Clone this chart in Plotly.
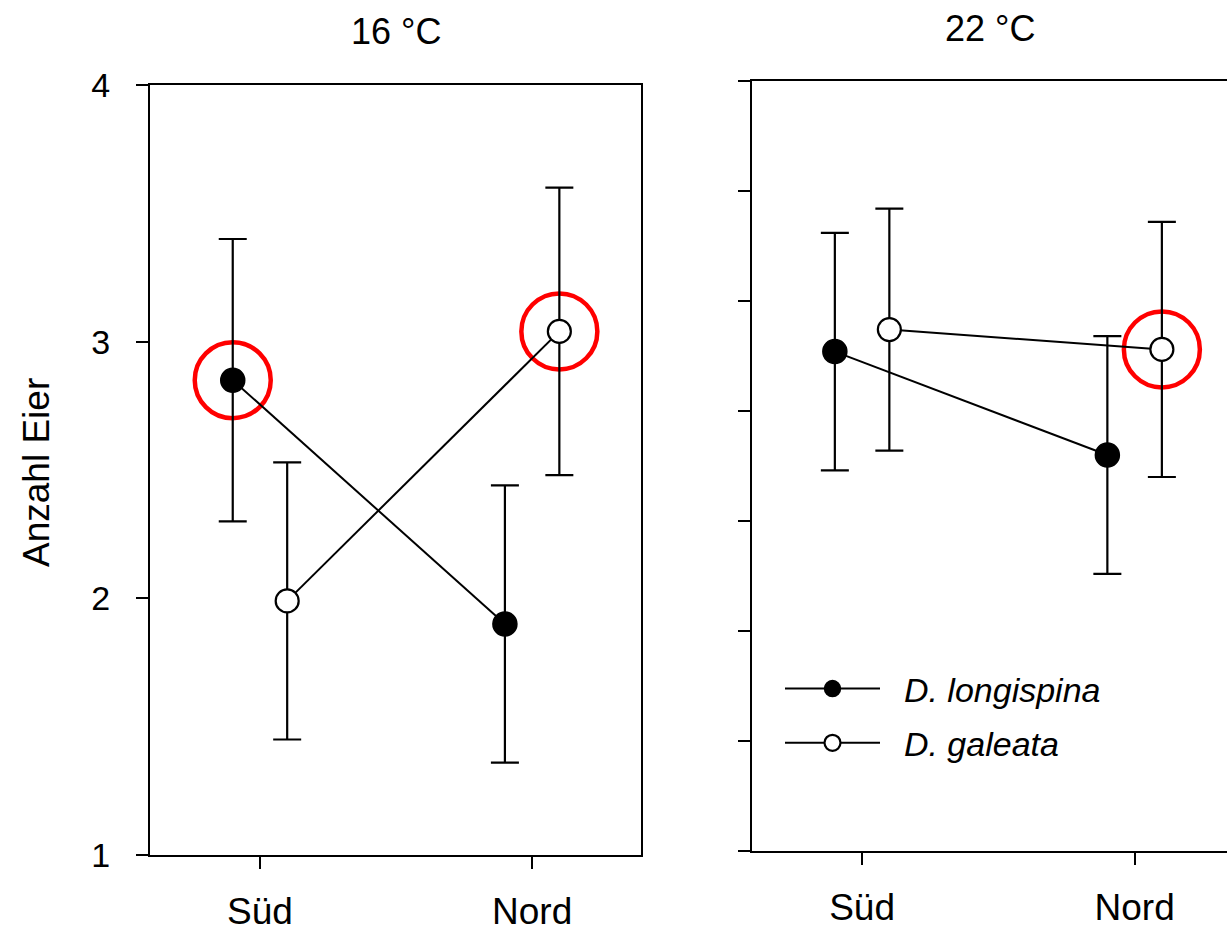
import plotly.graph_objects as go

categories = ["Süd", "Nord"]
panels = ["16 °C", "22 °C"]

# 16 °C
long_16 = [2.85, 1.90]
long_16_err = [0.55, 0.54]
gal_16 = [1.99, 3.04]
gal_16_err = [0.54, 0.56]

# 22 °C
long_22 = [3.27, 2.80]
long_22_err = [0.54, 0.54]
gal_22 = [3.37, 3.28]
gal_22_err = [0.55, 0.58]

# highlighted (red circle) points
hl_long_16 = [True, False]
hl_gal_16 = [False, True]
hl_long_22 = [False, False]
hl_gal_22 = [False, True]

y_ticks_left = [1, 2, 3, 4]
y_ticks_right = [1.0, 1.5, 2.0, 2.5, 3.0, 3.5, 4.0, 4.5]

OFFSET = 0.1
FONT = "Liberation Sans, Arial, sans-serif"
W, H = 1227, 931

pos = list(range(len(categories)))
fig = go.Figure()

def add_panel(xa, ya, lon, lon_e, gal, gal_e, hl_l, hl_g, showlegend):
    xl = [p - OFFSET for p in pos]
    xg = [p + OFFSET for p in pos]
    # red highlight circles
    hx = [x for x, h in zip(xl, hl_l) if h] + [x for x, h in zip(xg, hl_g) if h]
    hy = [v for v, h in zip(lon, hl_l) if h] + [v for v, h in zip(gal, hl_g) if h]
    fig.add_trace(go.Scatter(x=hx, y=hy, xaxis=xa, yaxis=ya, mode="markers",
                             marker=dict(symbol="circle-open", size=76, color="#ff0000",
                                         line=dict(width=4.5, color="#ff0000")),
                             showlegend=False, hoverinfo="skip"))
    fig.add_trace(go.Scatter(x=xl, y=lon, xaxis=xa, yaxis=ya, mode="lines+markers",
                             name="&nbsp;&nbsp;<i>D. longispina</i>", legendgroup="l",
                             showlegend=showlegend,
                             line=dict(color="black", width=2),
                             marker=dict(size=24, color="black", line=dict(width=1.5, color="black")),
                             error_y=dict(type="data", array=lon_e, visible=True,
                                          color="black", thickness=2.2, width=14)))
    fig.add_trace(go.Scatter(x=xg, y=gal, xaxis=xa, yaxis=ya, mode="lines+markers",
                             name="&nbsp;&nbsp;<i>D. galeata</i>", legendgroup="g",
                             showlegend=showlegend,
                             line=dict(color="black", width=2),
                             marker=dict(size=23, color="white", line=dict(width=2.2, color="black")),
                             error_y=dict(type="data", array=gal_e, visible=True,
                                          color="black", thickness=2.2, width=14)))

add_panel("x", "y", long_16, long_16_err, gal_16, gal_16_err, hl_long_16, hl_gal_16, False)
add_panel("x2", "y2", long_22, long_22_err, gal_22, gal_22_err, hl_long_22, hl_gal_22, True)

axis_common = dict(showgrid=False, zeroline=False, showline=True, linecolor="black",
                   linewidth=2, ticks="outside", tickcolor="black", tickwidth=2,
                   ticklen=12, automargin=False)

fig.update_layout(
    template="none",
    width=W, height=H,
    margin=dict(l=0, r=0, t=0, b=0, pad=0, autoexpand=False),
    paper_bgcolor="white", plot_bgcolor="white",
    font=dict(family=FONT, color="black"),
    xaxis=dict(domain=[150 / W, 641 / W], range=[-0.404, 1.4], mirror=True,
               tickvals=pos, ticktext=categories, tickfont=dict(size=37),
               ticklabelstandoff=11, anchor="y", **axis_common),
    yaxis=dict(domain=[1 - 855 / H, 1 - 85 / H], range=[1, 4], mirror=True,
               tickvals=y_ticks_left, tickfont=dict(size=34),
               ticklabelstandoff=19, anchor="x", **axis_common),
    xaxis2=dict(domain=[752 / W, 1.0], range=[-0.404, 1.339], mirror=True,
                tickvals=pos, ticktext=categories, tickfont=dict(size=37),
                ticklabelstandoff=11, anchor="y2", **axis_common),
    yaxis2=dict(domain=[1 - 851 / H, 1 - 81 / H], range=[1, 4.5], mirror=False,
                tickvals=y_ticks_right, showticklabels=False, anchor="x2", **axis_common),
    showlegend=True,
    legend=dict(x=780 / W, y=1 - 660 / H, xanchor="left", yanchor="top",
                bgcolor="rgba(0,0,0,0)", font=dict(size=34, family=FONT),
                itemwidth=95, tracegroupgap=7, traceorder="grouped"),
    annotations=[
        dict(text=panels[0], x=(150 + 641) / 2 / W, y=1 - 32 / H, xref="paper", yref="paper",
             showarrow=False, font=dict(size=36, family=FONT), xanchor="center", yanchor="middle"),
        dict(text=panels[1], x=(752 + 1227) / 2 / W, y=1 - 28 / H, xref="paper", yref="paper",
             showarrow=False, font=dict(size=36, family=FONT), xanchor="center", yanchor="middle"),
        dict(text="Anzahl Eier", x=36 / W, y=1 - 473 / H, xref="paper", yref="paper",
             showarrow=False, textangle=-90, font=dict(size=37, family=FONT),
             xanchor="center", yanchor="middle"),
    ],
)

fig.write_html("out.html")
